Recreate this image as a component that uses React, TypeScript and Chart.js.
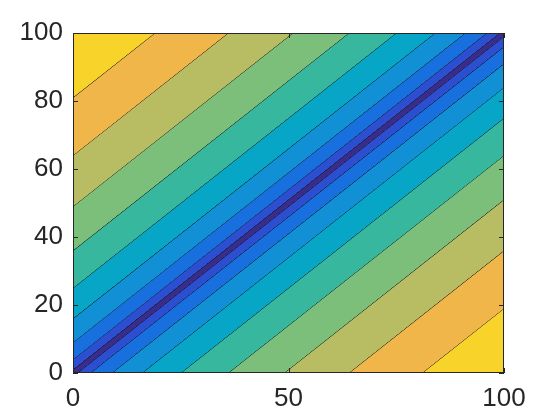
import React, { useEffect, useRef } from "react";
import { Chart, registerables } from "chart.js";

Chart.register(...registerables);

// Contour offsets d where |x - y| = d (levels of sqrt|x-y| = 1..9)
const contourOffsets = [1, 4, 9, 16, 25, 36, 49, 64, 81];
const outerOffset = 250;
// band colours from centre outward (0-1, 1-2, ..., 9-10)
const bandColors = [
  "#382d8b",
  "#2b4fd0",
  "#1870de",
  "#1190d6",
  "#07a6c6",
  "#36b79e",
  "#7cbf7b",
  "#b8bc63",
  "#f1b64a",
  "#f8d32a",
];
const xTicks = [0, 50, 100];
const yTicks = [0, 20, 40, 60, 80, 100];
const xMin = 0;
const xMax = 100;

const frame = {
  id: "frame",
  afterDatasetsDraw(chart: any) {
    const { ctx, chartArea: a, scales } = chart;
    ctx.save();
    ctx.strokeStyle = "#262626";
    ctx.lineWidth = 1;
    ctx.strokeRect(a.left + 0.5, a.top + 0.5, a.right - a.left - 1, a.bottom - a.top - 1);
    const tl = 5;
    ctx.beginPath();
    for (const v of yTicks) {
      const y = Math.round(scales.y.getPixelForValue(v)) + 0.5;
      ctx.moveTo(a.left, y);
      ctx.lineTo(a.left + tl, y);
      ctx.moveTo(a.right, y);
      ctx.lineTo(a.right - tl, y);
    }
    for (const v of xTicks) {
      const x = Math.round(scales.x.getPixelForValue(v)) + 0.5;
      ctx.moveTo(x, a.bottom);
      ctx.lineTo(x, a.bottom - tl);
      ctx.moveTo(x, a.top);
      ctx.lineTo(x, a.top + tl);
    }
    ctx.stroke();
    ctx.restore();
  },
};

export default function App() {
  const ref = useRef<HTMLCanvasElement>(null);
  useEffect(() => {
    document.body.style.margin = "0";
    const offsets = [
      -outerOffset,
      ...contourOffsets.slice().reverse().map((d) => -d),
      ...contourOffsets,
      outerOffset,
    ];
    const n = contourOffsets.length;
    const datasets = offsets.map((c, i) => {
      let color = "rgba(0,0,0,0)";
      if (i > 0) {
        const prev = offsets[i - 1];
        const absMid = Math.abs((c + prev) / 2);
        let idx = contourOffsets.findIndex((d) => absMid < d);
        if (idx < 0) idx = n;
        color = bandColors[idx];
      }
      const isContour = Math.abs(c) !== outerOffset;
      return {
        data: [
          { x: xMin, y: xMin + c },
          { x: xMax, y: xMax + c },
        ],
        showLine: true,
        pointRadius: 0,
        borderColor: isContour ? "#000000" : "rgba(0,0,0,0)",
        borderWidth: isContour ? 1 : 0,
        backgroundColor: color,
        fill: i > 0 ? "-1" : false,
        order: offsets.length - i,
      };
    });
    const chart = new Chart(ref.current!, {
      type: "scatter",
      data: { datasets },
      plugins: [frame],
      options: {
        animation: false,
        responsive: false,
        events: [],
        layout: { padding: { top: 33, right: 55, left: 0, bottom: 0 } },
        plugins: { legend: { display: false }, tooltip: { enabled: false } },
        scales: {
          x: {
            type: "linear",
            min: 0,
            max: 100,
            afterBuildTicks: (s: any) => {
              s.ticks = xTicks.map((v) => ({ value: v }));
            },
            afterFit: (s: any) => {
              s.height = 45;
            },
            grid: { display: false, drawTicks: false },
            border: { display: false },
            ticks: {
              padding: 10,
              color: "#262626",
              font: { family: "'Liberation Sans', Arial, sans-serif", size: 26 },
              maxRotation: 0,
            },
          },
          y: {
            type: "linear",
            min: 0,
            max: 100,
            afterBuildTicks: (s: any) => {
              s.ticks = yTicks.map((v) => ({ value: v }));
            },
            afterFit: (s: any) => {
              s.width = 73;
            },
            grid: { display: false, drawTicks: false },
            border: { display: false },
            ticks: {
              padding: 10,
              color: "#262626",
              font: { family: "'Liberation Sans', Arial, sans-serif", size: 26 },
            },
          },
        },
      },
    } as any);
    return () => chart.destroy();
  }, []);
  return (
    <div style={{ position: "absolute", left: 0, top: 0, width: 559, height: 418, background: "#fff" }}>
      <canvas ref={ref} width={559} height={418} style={{ display: "block" }} />
    </div>
  );
}
